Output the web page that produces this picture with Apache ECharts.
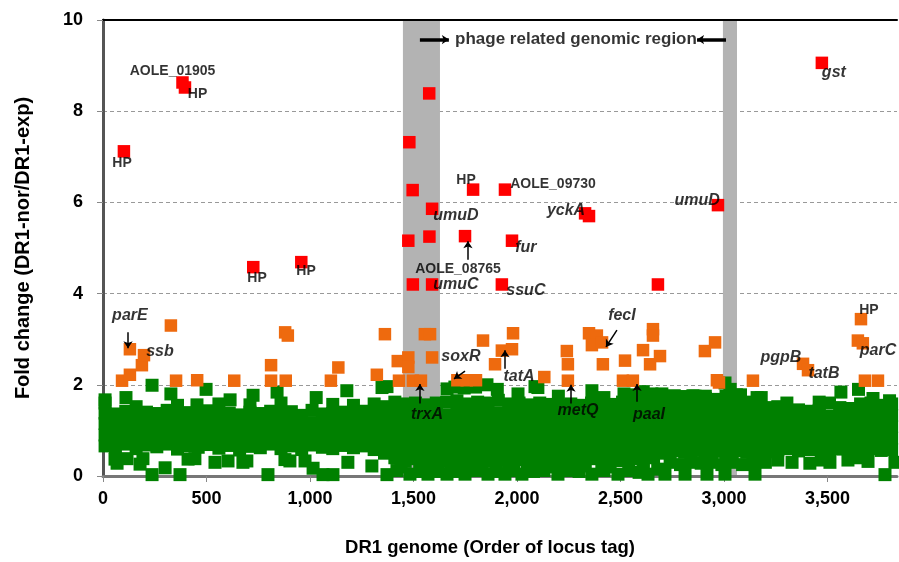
<!DOCTYPE html>
<html>
<head>
<meta charset="utf-8">
<script src="https://cdn.jsdelivr.net/npm/echarts@6/dist/echarts.min.js"></script>
<style>
html,body{margin:0;padding:0;background:#fff;}
#chart{width:899px;height:562px;}
</style>
</head>
<body>
<div id="chart"></div>
<script>
// ---- data ----
const xTicks = [0, 500, 1000, 1500, 2000, 2500, 3000, 3500];
const yTicks = [0, 2, 4, 6, 8, 10];
const phageBands = [[1449, 1628], [2995, 3063]];

const redPoints = [[101,7.12],[384,8.63],[396,8.52],[1576,8.39],[1480,7.32],[1496,6.27],[1590,5.86],[1475,5.16],[1577,5.25],[726,4.58],[958,4.69],[1749,5.26],[1788,6.28],[1942,6.28],[1976,5.16],[2329,5.76],[2348,5.7],[1497,4.2],[1590,4.2],[1927,4.2],[2681,4.2],[2971,5.94],[3473,9.06]];

const orangePoints = [[92,2.09],[130,2.22],[130,2.78],[188,2.43],[198,2.65],[328,3.3],[353,2.09],[455,2.1],[634,2.09],[812,2.43],[812,2.09],[880,3.15],[893,3.08],[883,2.09],[1101,2.09],[1137,2.38],[1323,2.22],[1362,3.11],[1424,2.52],[1430,2.09],[1475,2.6],[1475,2.39],[1497,2.09],[1536,2.09],[1555,3.11],[1580,3.11],[1590,2.6],[1712,2.1],[1757,2.1],[1802,2.1],[1836,2.97],[1894,2.45],[1927,2.75],[1976,2.78],[1981,3.13],[2132,2.17],[2241,2.74],[2246,2.45],[2246,2.09],[2348,3.13],[2386,3.08],[2362,2.87],[2411,2.93],[2415,2.45],[2522,2.53],[2512,2.09],[2560,2.09],[2609,2.76],[2657,3.22],[2657,3.08],[2691,2.63],[2643,2.45],[2908,2.74],[2957,2.93],[2966,2.1],[2976,2.05],[3140,2.09],[3382,2.46],[3406,2.32],[3662,3.44],[3647,2.97],[3671,2.91],[3681,2.09],[3744,2.09]];

// green: each row is [locus position, fold changes at that position...]
const greenColumns = [
[10,0.66,0.9,1.15,1.38,1.6],[60,0.62,0.88,1.12,1.36],[110,0.7,0.95,1.18,1.42],[160,0.6,0.86,1.1,1.33,1.52],
[210,0.68,0.93,1.17,1.4],[260,0.64,0.89,1.13,1.37],[310,0.7,0.94,1.19,1.44],[360,0.59,0.84,1.08,1.32,1.55],
[410,0.66,0.91,1.16,1.39],[460,0.63,0.87,1.12,1.35],[510,0.69,0.94,1.18,1.43],[560,0.61,0.86,1.11,1.36,1.58],
[610,0.67,0.92,1.15,1.38],[660,0.57,0.83,1.09,1.34],[710,0.65,0.9,1.14,1.4,1.56],[760,0.62,0.88,1.13,1.37],
[810,0.7,0.95,1.19,1.42],[860,0.6,0.85,1.1,1.35,1.6],[910,0.66,0.9,1.16,1.41],[960,0.58,0.84,1.09,1.33],
[1010,0.68,0.93,1.17,1.44],[1060,0.63,0.88,1.12,1.36],[1110,0.6,0.86,1.11,1.37,1.57],[1160,0.67,0.91,1.15,1.4],
[1210,0.62,0.87,1.13,1.39,1.55],[1260,0.66,0.92,1.16,1.42],[1310,0.58,0.83,1.08,1.34,1.58],[1360,0.5,0.76,1.02,1.28,1.52],
[1410,0.4,0.65,0.9,1.15,1.4,1.62],[1460,0.32,0.57,0.83,1.08,1.33,1.58],[1510,0.38,0.62,0.87,1.12,1.37,1.6],
[1560,0.3,0.55,0.8,1.05,1.3,1.56],[1610,0.36,0.61,0.86,1.1,1.35,1.6],[1660,0.33,0.58,0.84,1.09,1.34,1.62],
[1710,0.38,0.63,0.88,1.13,1.38,1.65],[1760,0.3,0.56,0.81,1.07,1.32,1.58],[1810,0.35,0.6,0.85,1.1,1.36,1.62],
[1860,0.32,0.57,0.83,1.08,1.34,1.6],[1910,0.37,0.62,0.87,1.12,1.38,1.66],[1960,0.31,0.56,0.82,1.07,1.33,1.58],
[2010,0.36,0.61,0.86,1.11,1.37,1.6],[2060,0.33,0.58,0.83,1.09,1.34,1.56],[2110,0.38,0.63,0.88,1.13,1.38,1.6],
[2160,0.34,0.59,0.84,1.09,1.35,1.57],[2210,0.3,0.55,0.81,1.06,1.31,1.54],[2260,0.37,0.62,0.87,1.12,1.37,1.58],
[2310,0.33,0.58,0.83,1.08,1.33,1.55],[2360,0.38,0.63,0.88,1.13,1.38,1.6],[2410,0.31,0.56,0.82,1.07,1.32,1.54],
[2460,0.36,0.61,0.86,1.11,1.36,1.57],[2510,0.34,0.59,0.84,1.09,1.35,1.62],[2560,0.38,0.63,0.88,1.13,1.39,1.64],
[2610,0.32,0.57,0.82,1.08,1.33,1.58],[2660,0.4,0.65,0.9,1.15,1.4,1.63],
[2710,0.5,0.75,1.0,1.25,1.5,1.7],[2760,0.55,0.8,1.05,1.3,1.55,1.72],[2810,0.52,0.77,1.02,1.27,1.52,1.74],
[2860,0.56,0.81,1.06,1.31,1.56,1.75],[2910,0.5,0.76,1.01,1.26,1.5,1.7],[2960,0.54,0.79,1.04,1.29,1.54,1.68],
[3010,0.5,0.75,1.0,1.25,1.5,1.75],[3060,0.55,0.8,1.05,1.3,1.55,1.78],[3110,0.52,0.77,1.02,1.27,1.52,1.62],
[3160,0.56,0.81,1.06,1.31,1.56,1.72],[3210,0.53,0.78,1.03,1.28,1.5],[3260,0.57,0.82,1.07,1.32,1.52],
[3310,0.6,0.85,1.1,1.35],[3360,0.55,0.8,1.05,1.3,1.45],[3410,0.58,0.83,1.08,1.33,1.42],
[3460,0.6,0.85,1.1,1.35,1.44],[3510,0.56,0.81,1.06,1.31,1.6],[3560,0.59,0.84,1.09,1.34,1.5],
[3610,0.55,0.8,1.05,1.3,1.48],[3660,0.58,0.83,1.08,1.33,1.58],[3710,0.6,0.85,1.1,1.35,1.6],
[3760,0.56,0.81,1.06,1.31,1.55],[3810,0.58,0.83,1.08,1.33,1.58]
];

const greenHigh = [[10,1.67],[111,1.72],[237,1.99],[328,1.8],[454,1.56],[498,1.9],[614,1.67],[725,1.77],[841,1.84],[1030,1.72],[1178,1.87],[1348,1.94],[1372,1.96],[1662,1.91],[1700,1.95],[1745,1.93],[1800,1.95],[1855,2.0],[1905,1.9],[2005,1.8],[2087,1.96],[2101,1.94],[2200,1.75],[2362,1.87],[2420,1.72],[2517,1.8],[2560,1.78],[2610,1.85],[2652,1.8],[2700,1.8],[2760,1.76],[2802,1.74],[2850,1.76],[2910,1.75],[3005,2.04],[3030,1.9],[3080,1.78],[3180,1.72],[3304,1.6],[3460,1.62],[3565,1.84],[3650,1.9],[3720,1.7],[3800,1.65]];

const greenLow = [[58,0.37],[68,0.28],[116,0.38],[179,0.26],[193,0.38],[237,0.03],[300,0.18],[372,0.03],[411,0.37],[444,0.38],[541,0.3],[604,0.33],[676,0.3],[695,0.33],[797,0.03],[879,0.36],[903,0.33],[976,0.33],[1015,0.17],[1063,0.03],[1111,0.03],[1183,0.3],[1299,0.22],[1372,0.03],
[1420,0.12],[1483,0.04],[1530,0.1],[1570,0.04],[1620,0.1],[1662,0.04],[1705,0.1],[1749,0.04],[1800,0.12],[1860,0.04],[1900,0.1],[1942,0.04],[1985,0.12],[2024,0.04],[2080,0.1],[2130,0.12],[2198,0.04],[2250,0.12],[2300,0.1],[2362,0.04],[2420,0.12],[2488,0.04],[2540,0.12],[2590,0.08],[2633,0.04],[2680,0.15],
[1440,0.2],[1590,0.2],[1680,0.22],[1830,0.22],[1960,0.2],[2050,0.22],[2170,0.2],[2330,0.22],[2450,0.2],[2610,0.22],
[2715,0.04],[2740,0.3],[2790,0.25],[2812,0.04],[2840,0.3],[2890,0.28],[2918,0.04],[2940,0.3],[2990,0.25],[3005,0.04],[3040,0.3],[3090,0.25],[3140,0.3],[3150,0.04],[3200,0.3],[3260,0.35],[3329,0.3],[3415,0.28],[3470,0.35],[3512,0.3],[3599,0.35],[3650,0.4],[3696,0.32],[3778,0.03],[3826,0.3]];

// annotation texts anchored in data coordinates [text, x, y]
const geneLabels = [
["AOLE_01905",336,8.87],["HP",457,8.38],["HP",92,6.87],["HP",744,4.33],["HP",981,4.5],
["umuD",1705,5.72],["AOLE_08765",1715,4.54],["umuC",1705,4.2],["HP",1754,6.48],["AOLE_09730",2174,6.41],
["yckA",2237,5.83],["fur",2043,5.0],["ssuC",2043,4.07],["umuD",2870,6.04],["gst",3531,8.85],
["parE",130,3.52],["ssb",275,2.72],["trxA",1565,1.35],["soxR",1729,2.61],["tatA",2010,2.17],
["metQ",2295,1.43],["fecI",2507,3.52],["paaI",2638,1.35],["pgpB",3275,2.59],["tatB",3483,2.24],
["HP",3700,3.63],["parC",3744,2.76]
];
// arrows [x1,y1,x2,y2]
const geneArrows = [[121,3.15,121,2.8],[1763,4.74,1763,5.15],[1531,1.59,1531,2.02],[1749,2.3,1696,2.13],[1942,2.35,1942,2.76],[2261,1.59,2261,2.0],[2483,3.2,2430,2.83],[2580,1.63,2580,2.02]];
const phageText = ["phage related genomic region",2285,9.57];
const phageArrows = [[1531,9.57,1671,9.57],[3010,9.57,2870,9.57]];

// ---- build ----
const greenPoints = [];
greenColumns.forEach(r => { for (let i = 1; i < r.length; i++) greenPoints.push([r[0], r[i]]); });
greenHigh.forEach(p => greenPoints.push(p));
greenLow.forEach(p => greenPoints.push(p));

const FONT = 'Liberation Sans, Arial, sans-serif';
const labelData = geneLabels.map(g => {
  const upright = g[0] === 'HP' || g[0].indexOf('AOLE') === 0;
  return {
    name: g[0], value: [g[1], g[2]],
    label: { fontStyle: upright ? 'normal' : 'italic', fontSize: upright ? 14 : 16 }
  };
});
labelData.push({ name: phageText[0], value: [phageText[1], phageText[2]], label: { fontStyle: 'normal', fontSize: 17 } });

const arrowLine = (a) => [{ coord: [a[0], a[1]] }, { coord: [a[2], a[3]] }];
const markStyle = { opacity: 1, borderWidth: 0 };

const chart = echarts.init(document.getElementById('chart'), null, { renderer: 'canvas' });
chart.setOption({
  animation: false,
  backgroundColor: '#fff',
  grid: { left: 103, top: 20, right: 2, bottom: 82 },
  xAxis: [{
    type: 'value', min: 0, max: 3836, interval: 500, z: 1,
    name: 'DR1 genome (Order of locus tag)', nameLocation: 'middle', nameGap: 62,
    nameTextStyle: { fontFamily: FONT, fontWeight: 'bold', fontSize: 18.5, color: '#000', padding: [0, 20, 0, 0] },
    axisLine: { show: true, lineStyle: { color: '#777', width: 3 } },
    axisTick: { show: true, length: 6, lineStyle: { color: '#888', width: 1 } },
    axisLabel: {
      margin: 14, fontFamily: FONT, fontWeight: 'bold', fontSize: 18, color: '#000', showMaxLabel: false,
      formatter: v => xTicks.indexOf(v) >= 0 ? String(v).replace(/\B(?=(\d{3})+(?!\d))/g, ',') : ''
    },
    splitLine: { show: false }
  }, {
    type: 'value', position: 'top', min: 0, max: 3836, z: 1,
    axisLine: { show: true, onZero: false, lineStyle: { color: '#000', width: 2 } },
    axisTick: { show: false }, axisLabel: { show: false }, splitLine: { show: false }
  }],
  yAxis: {
    type: 'value', min: 0, max: 10, interval: 2, z: 1,
    name: 'Fold change (DR1-nor/DR1-exp)', nameLocation: 'middle', nameGap: 70, nameRotate: 90,
    nameTextStyle: { fontFamily: FONT, fontWeight: 'bold', fontSize: 20, color: '#000' },
    axisLine: { show: true, lineStyle: { color: '#555', width: 3 } },
    axisTick: { show: true, length: 6, lineStyle: { color: '#888', width: 1 } },
    axisLabel: {
      margin: 20, fontFamily: FONT, fontWeight: 'bold', fontSize: 18, color: '#000',
      formatter: v => yTicks.indexOf(v) >= 0 ? String(v) : ''
    },
    splitLine: { show: true, lineStyle: { color: '#999', type: [4, 3], width: 1 } }
  },
  series: [
    {
      type: 'scatter', data: [], z: 0, silent: true,
      markArea: {
        silent: true, itemStyle: { color: '#b3b3b3', opacity: 1 },
        data: phageBands.map(b => [{ xAxis: b[0] }, { xAxis: b[1] }])
      }
    },
    { type: 'scatter', data: greenPoints, symbol: 'rect', symbolSize: 13, z: 2, silent: true,
      itemStyle: Object.assign({ color: '#008000' }, markStyle) },
    { type: 'scatter', data: orangePoints, symbol: 'rect', symbolSize: 12.5, z: 3, silent: true,
      itemStyle: Object.assign({ color: '#ee6a0e' }, markStyle) },
    { type: 'scatter', data: redPoints, symbol: 'rect', symbolSize: 12.5, z: 4, silent: true,
      itemStyle: Object.assign({ color: '#ff0000' }, markStyle) },
    {
      type: 'scatter', data: labelData, symbolSize: 0, z: 5, silent: true,
      label: { show: true, position: 'inside', formatter: '{b}', fontFamily: FONT, fontWeight: 'bold',
               color: '#000', textBorderWidth: 0, textShadowBlur: 0 },
      markLine: {
        silent: true, symbol: ['none', 'arrow'], symbolSize: 7, label: { show: false },
        lineStyle: { color: '#000', width: 1.5, type: 'solid' },
        data: geneArrows.map(arrowLine).concat(phageArrows.map(a => {
          const l = arrowLine(a);
          l[0].lineStyle = { width: 3.5, color: '#000', type: 'solid' };
          l[0].symbolSize = 11;
          return l;
        }))
      }
    }
  ]
});
</script>
</body>
</html>
